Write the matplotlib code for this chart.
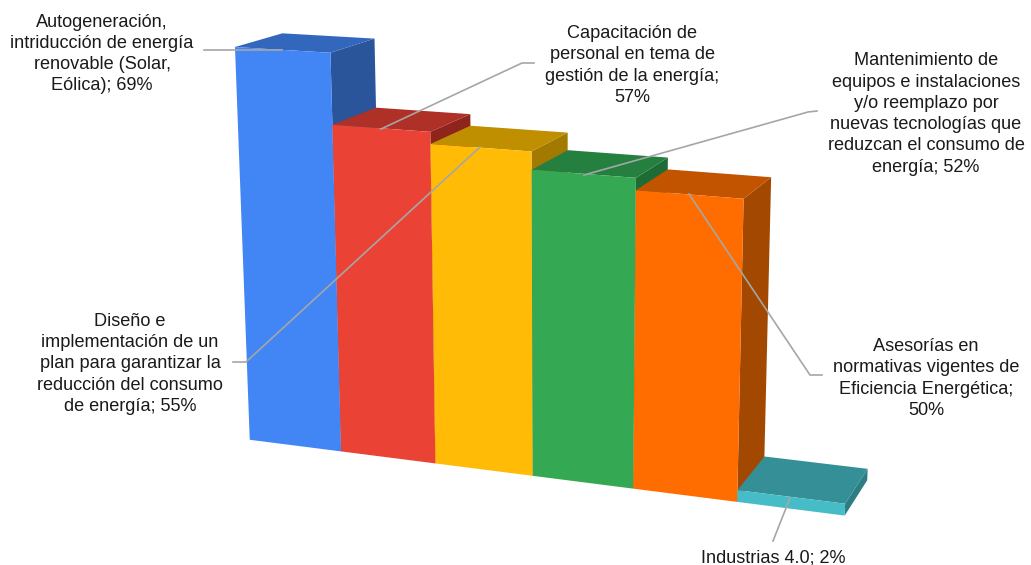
import numpy as np
import matplotlib
matplotlib.use("Agg")
import matplotlib.pyplot as plt
from matplotlib.patches import Polygon

# ---- data ----
values = [69, 57, 55, 52, 50, 2]
labels = [
    "Autogeneración,\nintriducción de energía\nrenovable (Solar,\nEólica); 69%",
    "Capacitación de\npersonal en tema de\ngestión de la energía;\n57%",
    "Diseño e\nimplementación de un\nplan para garantizar la\nreducción del consumo\nde energía; 55%",
    "Mantenimiento de\nequipos e instalaciones\ny/o reemplazo por\nnuevas tecnologías que\nreduzcan el consumo de\nenergía; 52%",
    "Asesorías en\nnormativas vigentes de\nEficiencia Energética;\n50%",
    "Industrias 4.0; 2%",
]
front_colors = ["#4285F4", "#EA4335", "#FFBB05", "#34A853", "#FF6D01", "#46BDC6"]
top_colors = ["#3367BE", "#AF3026", "#BF8F00", "#25803F", "#C25400", "#358F96"]
side_colors = ["#2A559B", "#8F241D", "#A37A00", "#1E6C35", "#A34800", "#2C7D84"]

# label centre in pixels, then the leader line from the bar to the label
label_pos = [(102, 54), (632, 65.5), (130, 364), (926, 114), (926, 378.5), (773, 558)]
leaders = [
    [(282, 50), (204, 50)],
    [(381, 129), (522, 63), (534, 63)],
    [(480, 147), (246, 362), (233, 362)],
    [(584, 175), (808, 112), (817, 111)],
    [(689, 194), (810, 375), (822, 375)],
    [(790, 498), (773, 541)],
]

# perspective camera: (bar position, value, depth) -> pixel
CAMERA = np.array([
    [8.60829504e+01, -3.67336010e-01, 5.72517857e+01, 2.49753979e+02],
    [4.65629351e+00, -5.72268823e+00, -1.16726113e+01, 4.39770721e+02],
    [-1.54776750e-02, -6.52327555e-04, 4.24473889e-02, 1.00000000e+00],
])


def project(x, v, d):
    p = CAMERA @ np.array([x, v, d, 1.0])
    return p[0] / p[2], p[1] / p[2]


fig = plt.figure(figsize=(10.31, 5.65), dpi=100)
ax = fig.add_axes([0, 0, 1, 1])
ax.set_xlim(0, 1031)
ax.set_ylim(565, 0)
ax.axis("off")

# left to right, each bar hides the right side of the one before it
for i, v in enumerate(values):
    side = [project(i + 1, 0, 0), project(i + 1, v, 0), project(i + 1, v, 1), project(i + 1, 0, 1)]
    top = [project(i, v, 0), project(i + 1, v, 0), project(i + 1, v, 1), project(i, v, 1)]
    front = [project(i, 0, 0), project(i + 1, 0, 0), project(i + 1, v, 0), project(i, v, 0)]
    ax.add_patch(Polygon(side, fc=side_colors[i], ec="none"))
    ax.add_patch(Polygon(top, fc=top_colors[i], ec="none"))
    ax.add_patch(Polygon(front, fc=front_colors[i], ec="none"))

for pts in leaders:
    xs, ys = zip(*pts)
    ax.plot(xs, ys, color="#A6A6A6", lw=1.2)

for txt, (x, y) in zip(labels, label_pos):
    ax.text(x, y, txt, ha="center", va="center", fontsize=13.1,
            family="Liberation Sans", color="#1A1A1A", linespacing=1.33)

fig.savefig("out.png", dpi=100)
